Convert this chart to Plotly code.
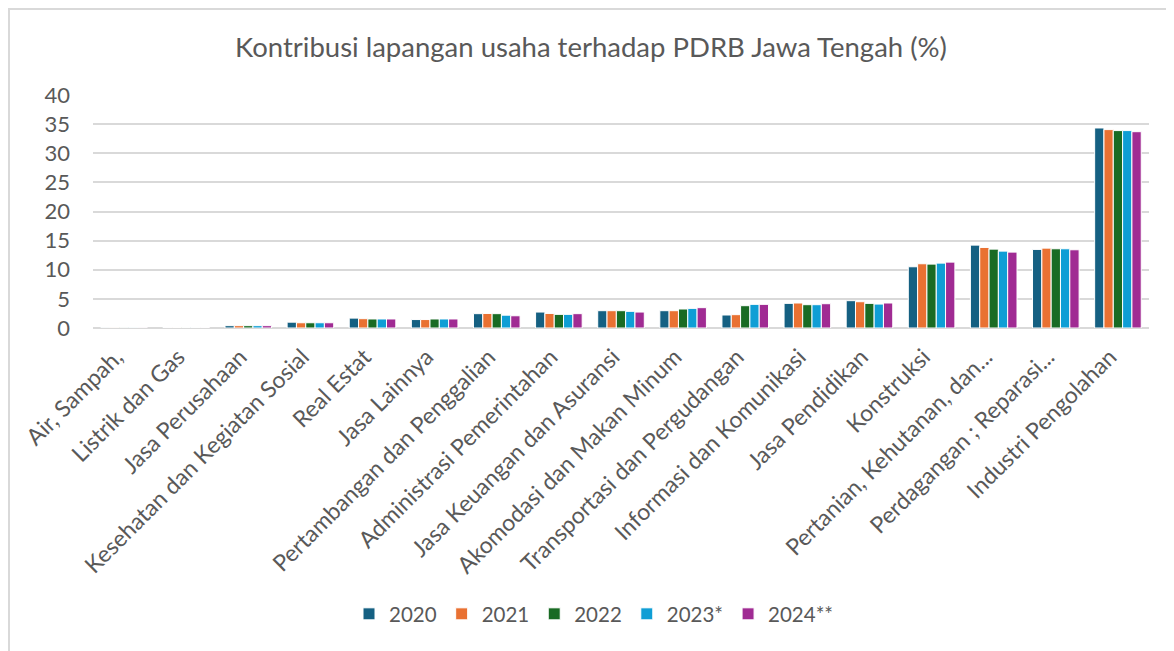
import plotly.graph_objects as go

categories = [
    "Air, Sampah,", "Listrik dan Gas", "Jasa Perusahaan",
    "Kesehatan dan Kegiatan Sosial", "Real Estat", "Jasa Lainnya",
    "Pertambangan dan Penggalian", "Administrasi Pemerintahan",
    "Jasa Keuangan dan Asuransi", "Akomodasi dan Makan Minum",
    "Transportasi dan Pergudangan", "Informasi dan Komunikasi",
    "Jasa Pendidikan", "Konstruksi", "Pertanian, Kehutanan, dan...",
    "Perdagangan ; Reparasi...", "Industri Pengolahan",
]

v2020 = [0.06, 0.09, 0.40, 1.00, 1.70, 1.45, 2.46, 2.74, 2.97, 2.97, 2.23, 4.23, 4.69, 10.51, 14.23, 13.49, 34.34]
v2021 = [0.06, 0.09, 0.40, 0.90, 1.60, 1.45, 2.50, 2.50, 2.97, 2.97, 2.29, 4.29, 4.51, 11.03, 13.83, 13.71, 34.06]
v2022 = [0.06, 0.09, 0.40, 0.90, 1.55, 1.55, 2.46, 2.34, 2.97, 3.26, 3.83, 4.00, 4.23, 10.97, 13.54, 13.60, 33.89]
v2023 = [0.06, 0.09, 0.40, 0.90, 1.55, 1.55, 2.20, 2.34, 2.86, 3.37, 4.06, 4.00, 4.11, 11.14, 13.20, 13.60, 33.89]
v2024 = [0.06, 0.09, 0.40, 0.90, 1.55, 1.55, 2.10, 2.46, 2.74, 3.49, 4.06, 4.17, 4.29, 11.31, 13.03, 13.43, 33.70]

series_names = ["2020", "2021", "2022", "2023*", "2024**"]
series_values = [v2020, v2021, v2022, v2023, v2024]
colors = ["#156082", "#E97132", "#196B24", "#0F9ED5", "#A02B93"]

# page has an 8px body margin; figure coordinates = page coordinates - 8
W, H = 1166, 643
L, R, T, B = 85, 25, 87, 323
pw, ph = W - L - R, H - T - B
base = T + ph  # pixel row of y=0 in figure coords

fig = go.Figure()
for name, vals, c in zip(series_names, series_values, colors):
    fig.add_trace(go.Bar(
        x=categories, y=vals, name=name,
        marker=dict(color=c, line=dict(color="white", width=1)),
    ))

font_family = "Lato, 'Open Sans', sans-serif"
fig.update_layout(
    width=W, height=H,
    margin=dict(l=L, r=R, t=T, b=B, autoexpand=False),
    paper_bgcolor="white", plot_bgcolor="white",
    barmode="group", bargap=0.25, bargroupgap=0,
    font=dict(family=font_family, color="#595959"),
    title=dict(
        text="Kontribusi lapangan usaha terhadap PDRB Jawa Tengah (%)",
        x=583 / W, xanchor="center", y=1 - 39 / H, yanchor="middle",
        font=dict(size=27.5, color="#595959", family=font_family),
    ),
    xaxis=dict(
        tickangle=-45, tickfont=dict(size=23, color="#595959"),
        showgrid=False, showline=False, ticks="", automargin=False,
        ticklabelstandoff=10, ticklabelshift=-8,
    ),
    yaxis=dict(
        range=[0, 40], dtick=5, tickfont=dict(size=22, color="#595959"),
        showgrid=True, gridcolor="#D9D9D9", gridwidth=1.5,
        zeroline=True, zerolinecolor="#D9D9D9", zerolinewidth=1.5,
        showline=False, ticks="", ticklabelstandoff=22, automargin=False,
    ),
    legend=dict(
        orientation="h", x=(586 - L) / pw, xanchor="center",
        y=(base - 606) / ph, yanchor="middle",
        font=dict(size=20.5, color="#595959"),
        itemwidth=30, traceorder="normal",
    ),
    showlegend=True,
    shapes=[dict(
        type="rect", xref="paper", yref="paper",
        x0=(1 - L) / pw, x1=(W + 20 - L) / pw,
        y0=(base - (H + 20)) / ph, y1=(base - 1) / ph,
        line=dict(color="#D9D9D9", width=2), layer="below",
    )],
)

fig.write_html("out.html")
